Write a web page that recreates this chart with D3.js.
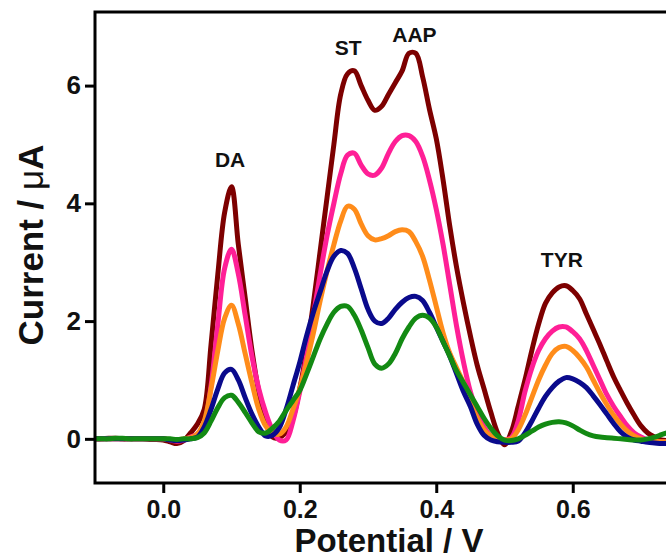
<!DOCTYPE html>
<html><head><meta charset="utf-8">
<script src="https://cdnjs.cloudflare.com/ajax/libs/d3/7.8.5/d3.min.js"></script>
<style>html,body{margin:0;padding:0;background:#fff;overflow:hidden}</style>
</head><body>
<svg id="chart" width="666" height="558"></svg>
<script>
const potential = [-0.10,-0.09,-0.08,-0.07,-0.06,-0.05,-0.04,-0.03,-0.02,-0.01,
 0.00,0.01,0.02,0.03,0.04,0.05,0.06,0.07,0.08,0.09,
 0.10,0.11,0.12,0.13,0.14,0.15,0.16,0.17,0.18,0.19,
 0.20,0.21,0.22,0.23,0.24,0.25,0.26,0.27,0.28,0.29,
 0.30,0.31,0.32,0.33,0.34,0.35,0.36,0.37,0.38,0.39,
 0.40,0.41,0.42,0.43,0.44,0.45,0.46,0.47,0.48,0.49,
 0.50,0.51,0.52,0.53,0.54,0.55,0.56,0.57,0.58,0.59,
 0.60,0.61,0.62,0.63,0.64,0.65,0.66,0.67,0.68,0.69,
 0.70,0.71,0.72,0.73,0.74,0.75];

const brown = [0.00,0.00,0.01,0.01,0.00,0.00,0.00,0.00,-0.01,-0.01,
 -0.02,-0.05,-0.08,-0.03,0.10,0.25,0.50,1.60,2.80,3.85,
 4.28,3.30,2.40,1.50,0.80,0.30,0.03,0.02,0.12,0.35,
 0.85,1.50,2.30,3.20,4.10,5.00,5.85,6.20,6.25,6.00,
 5.75,5.58,5.65,5.85,6.05,6.25,6.55,6.55,6.15,5.60,
 5.10,4.40,3.60,2.90,2.30,1.75,1.25,0.85,0.45,0.10,
 -0.10,0.12,0.55,1.00,1.50,1.95,2.30,2.48,2.58,2.60,
 2.52,2.38,2.12,1.86,1.60,1.32,1.05,0.82,0.60,0.40,
 0.22,0.10,0.03,-0.02,-0.03,-0.03];

const pink = [0.00,0.00,0.00,0.00,0.00,0.00,0.00,0.00,0.00,0.00,
 0.00,-0.02,-0.04,-0.02,0.03,0.08,0.25,0.90,1.95,2.90,
 3.22,2.80,2.10,1.40,0.85,0.45,0.15,-0.02,-0.02,0.30,
 0.80,1.40,2.10,2.80,3.45,4.00,4.50,4.82,4.85,4.65,
 4.50,4.48,4.60,4.85,5.05,5.15,5.15,5.05,4.80,4.40,
 3.90,3.30,2.60,1.90,1.30,0.80,0.45,0.20,0.05,0.00,
 -0.02,0.02,0.30,0.80,1.20,1.50,1.70,1.83,1.90,1.90,
 1.82,1.70,1.50,1.25,1.00,0.75,0.55,0.38,0.22,0.10,
 0.03,-0.02,-0.04,-0.05,-0.05,-0.05];

const orange = [0.00,0.00,0.00,0.00,0.00,0.00,0.00,0.00,0.00,0.00,
 0.00,-0.01,-0.02,0.00,0.02,0.08,0.30,0.85,1.50,2.05,
 2.27,1.95,1.45,0.95,0.50,0.22,0.10,0.08,0.20,0.50,
 0.85,1.30,1.80,2.35,2.85,3.30,3.70,3.95,3.90,3.65,
 3.45,3.38,3.40,3.45,3.52,3.55,3.52,3.35,3.10,2.70,
 2.25,1.80,1.45,1.20,0.95,0.60,0.35,0.15,0.05,0.00,
 -0.02,0.00,0.15,0.40,0.70,1.00,1.25,1.45,1.55,1.57,
 1.50,1.38,1.22,1.00,0.78,0.58,0.40,0.25,0.13,0.05,
 0.00,-0.03,-0.04,-0.05,-0.05,-0.05];

const blue = [0.00,0.00,0.00,0.00,0.00,0.00,0.00,0.00,0.00,0.00,
 0.00,-0.02,-0.03,-0.02,0.00,0.03,0.20,0.50,0.85,1.12,
 1.18,1.00,0.70,0.42,0.20,0.05,0.06,0.19,0.50,0.90,
 1.30,1.75,2.15,2.50,2.85,3.10,3.20,3.15,2.90,2.55,
 2.20,2.00,1.96,2.05,2.20,2.32,2.40,2.42,2.35,2.15,
 1.90,1.65,1.40,1.10,0.80,0.55,0.25,0.06,-0.02,-0.05,
 -0.06,-0.06,-0.04,0.10,0.30,0.52,0.72,0.87,0.98,1.04,
 1.02,0.96,0.87,0.73,0.58,0.42,0.26,0.12,0.03,-0.02,
 -0.04,-0.06,-0.07,-0.08,-0.08,-0.08];

const green = [0.00,0.00,0.00,0.01,0.01,0.00,0.00,0.00,0.00,0.00,
 0.00,0.00,-0.01,0.00,0.00,0.02,0.10,0.30,0.53,0.70,
 0.74,0.62,0.45,0.27,0.12,0.10,0.18,0.30,0.48,0.65,
 0.82,1.10,1.40,1.70,1.95,2.15,2.25,2.25,2.10,1.85,
 1.55,1.27,1.20,1.27,1.45,1.70,1.90,2.05,2.10,2.05,
 1.90,1.65,1.40,1.15,0.95,0.75,0.55,0.35,0.18,0.05,
 -0.02,-0.03,0.00,0.06,0.13,0.20,0.25,0.28,0.29,0.27,
 0.22,0.15,0.09,0.05,0.03,0.02,0.01,0.00,-0.01,-0.02,
 -0.02,0.00,0.03,0.07,0.11,0.15];

const seriesNames = ["brown","pink","orange","blue","green"];
const seriesColors = ["#7d0000","#ff1f96","#ff8c1a","#0a0a8c","#138a13"];
const seriesValues = [brown, pink, orange, blue, green];

const xTicks = [0.0, 0.2, 0.4, 0.6];
const yTicks = [0, 2, 4, 6];

const peakLabels = ["DA","ST","AAP","TYR"];
const peakX = [0.098, 0.271, 0.368, 0.584];
const peakY = [4.62, 6.52, 6.74, 2.92];

const mLeft = 95, mTop = 12, mRight = 709.25, mBottom = 483;
const x = d3.scaleLinear().domain([-0.1, 0.8]).range([mLeft, mRight]);
const y = d3.scaleLinear().domain([-0.75, 7.25]).range([mBottom, mTop]);

const svg = d3.select("#chart");
const font = "'Liberation Sans', Arial, sans-serif";

svg.append("defs").append("clipPath").attr("id","clip")
  .append("rect").attr("x", mLeft).attr("y", mTop).attr("width", mRight-mLeft).attr("height", mBottom-mTop);

const line = d3.line().x((d,i)=>x(potential[i])).y(d=>y(d)).curve(d3.curveCatmullRom.alpha(0.5));

const g = svg.append("g").attr("clip-path","url(#clip)");
seriesValues.forEach((vals, k) => {
  g.append("path").datum(vals)
    .attr("d", line)
    .attr("fill","none")
    .attr("stroke", seriesColors[k])
    .attr("stroke-width", 5)
    .attr("stroke-linejoin","round")
    .attr("stroke-linecap","round");
});

// frame
svg.append("rect").attr("x", mLeft).attr("y", mTop).attr("width", mRight-mLeft).attr("height", mBottom-mTop)
  .attr("fill","none").attr("stroke","#000").attr("stroke-width",3);

const xAxis = svg.append("g").attr("transform",`translate(0,${mBottom})`)
  .call(d3.axisBottom(x).tickValues(xTicks).tickFormat(d3.format(".1f")).tickSize(10).tickSizeOuter(0).tickPadding(7));
xAxis.select(".domain").remove();
xAxis.selectAll(".tick line").attr("stroke","#000").attr("stroke-width",3);
xAxis.selectAll(".tick text").attr("font-family",font).attr("font-weight","bold").attr("font-size","25px").attr("fill","#111");

const yAxis = svg.append("g").attr("transform",`translate(${mLeft},0)`)
  .call(d3.axisLeft(y).tickValues(yTicks).tickFormat(d3.format("d")).tickSize(10).tickSizeOuter(0).tickPadding(4));
yAxis.select(".domain").remove();
yAxis.selectAll(".tick line").attr("stroke","#000").attr("stroke-width",3);
yAxis.selectAll(".tick text").attr("font-family",font).attr("font-weight","bold").attr("font-size","26px").attr("fill","#111");

// axis titles
svg.append("text").attr("x", 389).attr("y", 552).attr("text-anchor","middle")
  .attr("font-family",font).attr("font-weight","bold").attr("font-size","33px").attr("fill","#111")
  .text("Potential / V");
const yl = svg.append("text").attr("transform","translate(43,245) rotate(-90)").attr("text-anchor","middle")
  .attr("font-family",font).attr("font-weight","bold").attr("font-size","35px").attr("fill","#111");
yl.append("tspan").text("Current / ");
yl.append("tspan").attr("font-weight","normal").text("μ");
yl.append("tspan").text("A");

// peak labels
peakLabels.forEach((t,i)=>{
  svg.append("text").attr("x", x(peakX[i])).attr("y", y(peakY[i])).attr("text-anchor","middle")
    .attr("font-family",font).attr("font-weight","bold").attr("font-size","21px").attr("fill","#111")
    .text(t);
});
</script>
</body></html>
